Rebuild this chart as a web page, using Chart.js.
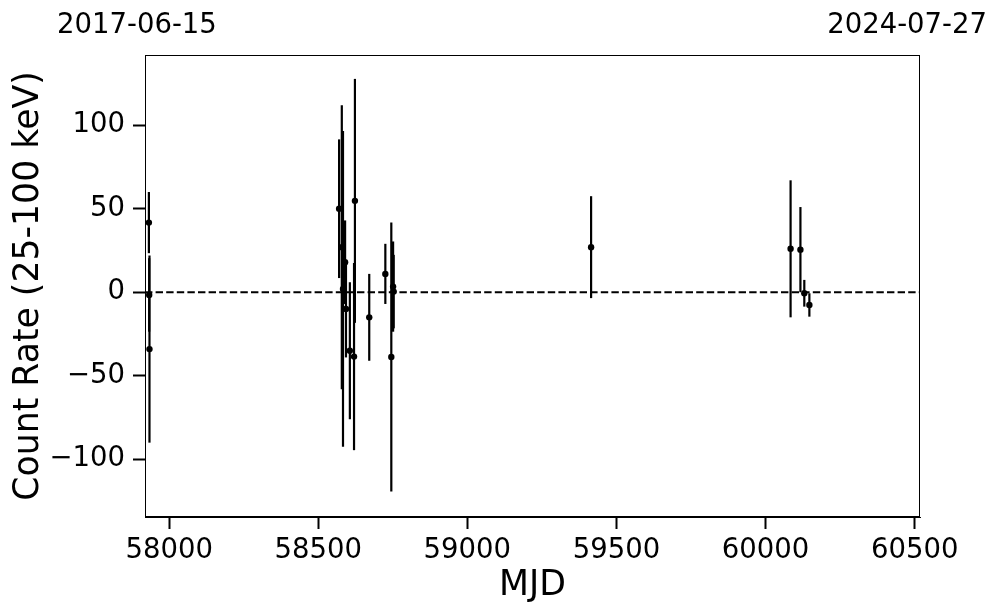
<!DOCTYPE html>
<html><head><meta charset="utf-8">
<script src="https://cdn.jsdelivr.net/npm/chart.js@4.4.0/dist/chart.umd.min.js"></script>
<style>html,body{margin:0;padding:0;background:#fff}#wrap{width:997px;height:613px}</style>
</head><body><div id="wrap"><canvas id="c" width="997" height="613"></canvas></div>
<script>
// ---- data ----
const mjd      = [57932, 57933, 57934, 58570, 58579, 58583, 58590, 58593, 58606, 58620, 58623, 58671, 58725, 58745, 58751, 58753, 59415, 60084, 60117, 60130, 60147];
const rate     = [41.7, -1.6, -34, 50, 27, 2, 18, -10, -35, -38.5, 54.7, -15, 11, -38.7, 3.4, 0.4, 27, 26, 25.5, -0.6, -7.6];
const rateErr  = [18.3, 22, 56, 41.5, 85, 94.5, 25, 29, 41, 56, 73, 26, 18, 80.5, 27, 22, 30.5, 41, 25.5, 8, 7];
const xTicks   = [58000, 58500, 59000, 59500, 60000, 60500];
const yTicks   = [-100, -50, 0, 50, 100];
const xRange   = [57919, 60518];
const yRange   = [-134.5, 142];
const dateLabels = ['2017-06-15', '2024-07-27'];
const xTitle = 'MJD';
const yTitle = 'Count Rate (25-100 keV)';

const FONT = "'DejaVu Sans', sans-serif";

const errorBars = {
  id: 'errorBars',
  beforeDatasetsDraw(chart) {
    const {ctx, chartArea: a, scales: {x, y}} = chart;
    ctx.save();
    ctx.beginPath(); ctx.rect(a.left, a.top, a.width, a.height); ctx.clip();
    ctx.strokeStyle = '#000'; ctx.lineWidth = 2.2;
    mjd.forEach((m, i) => {
      const px = x.getPixelForValue(m);
      ctx.beginPath();
      ctx.moveTo(px, y.getPixelForValue(rate[i] - rateErr[i]));
      ctx.lineTo(px, y.getPixelForValue(rate[i] + rateErr[i]));
      ctx.stroke();
    });
    ctx.restore();
  }
};

const frameAndDates = {
  id: 'frameAndDates',
  afterDraw(chart) {
    const {ctx, chartArea: a} = chart;
    ctx.save();
    ctx.strokeStyle = '#000'; ctx.lineWidth = 1;
    ctx.strokeRect(Math.round(a.left) + 0.5, Math.round(a.top) + 0.5, Math.round(a.width) - 1, Math.round(a.height) - 1);
    ctx.fillStyle = '#000';
    ctx.font = "27.5px " + FONT;
    ctx.textBaseline = 'alphabetic';
    ctx.textAlign = 'left';
    ctx.fillText(dateLabels[0], 57, 33);
    ctx.textAlign = 'right';
    ctx.fillText(dateLabels[1], 987, 33);
    ctx.restore();
  }
};

const fmt = v => v < 0 ? '\u2212' + Math.abs(v) : String(v);

new Chart(document.getElementById('c'), {
  type: 'scatter',
  data: {
    datasets: [
      {
        type: 'line',
        data: [{x: xRange[0], y: 0}, {x: xRange[1], y: 0}],
        borderColor: '#000', borderWidth: 2, borderDash: [7.4, 3.2],
        pointRadius: 0, fill: false
      },
      {
        data: mjd.map((m, i) => ({x: m, y: rate[i]})),
        backgroundColor: '#000', borderColor: '#000', borderWidth: 0,
        pointRadius: 3.2
      }
    ]
  },
  options: {
    responsive: false,
    animation: false,
    devicePixelRatio: 1,
    layout: {padding: {top: 55, right: 77, left: 0, bottom: 0}},
    plugins: {legend: {display: false}, tooltip: {enabled: false}},
    scales: {
      x: {
        type: 'linear', min: xRange[0], max: xRange[1],
        afterBuildTicks: s => { s.ticks = xTicks.map(v => ({value: v})); },
        afterFit: s => { s.height = 96; },
        grid: {display: true, drawOnChartArea: false, drawTicks: true, tickLength: 12, tickWidth: 2, tickColor: '#000'},
        border: {display: true, color: '#000', width: 1},
        ticks: {color: '#000', font: {family: FONT, size: 27.5}, padding: 5, maxRotation: 0, autoSkip: false, callback: v => String(v)},
        title: {display: true, text: xTitle, color: '#000', font: {family: FONT, size: 34.7}, padding: {top: 0, bottom: 6}}
      },
      y: {
        type: 'linear', min: yRange[0], max: yRange[1],
        afterBuildTicks: s => { s.ticks = yTicks.map(v => ({value: v})); },
        afterFit: s => { s.width = 145; },
        grid: {display: true, drawOnChartArea: false, drawTicks: true, tickLength: 12, tickWidth: 2, tickColor: '#000'},
        border: {display: true, color: '#000', width: 1},
        ticks: {color: '#000', font: {family: FONT, size: 27.5}, padding: 8, autoSkip: false, callback: v => fmt(v)},
        title: {display: true, text: yTitle, color: '#000', font: {family: FONT, size: 34.7}, padding: {top: 8, bottom: 0}}
      }
    }
  },
  plugins: [errorBars, frameAndDates]
});
</script>
</body></html>
